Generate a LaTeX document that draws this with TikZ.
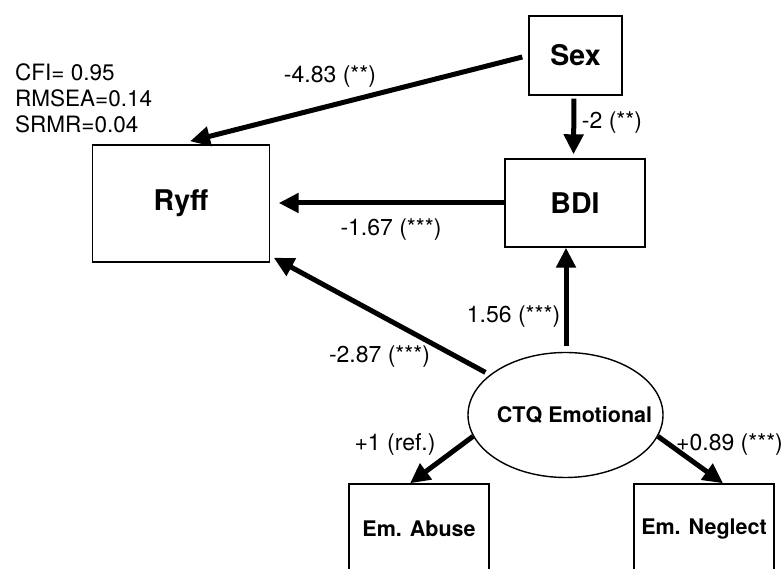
\documentclass[tikz,border=0pt]{standalone}
\usepackage{fontspec}
\setmainfont{TeX Gyre Heros}
\usetikzlibrary{arrows.meta,shapes.geometric}
\begin{document}
\begin{tikzpicture}[x=1pt,y=1pt,
  box/.style={draw, line width=1.4pt, rectangle, inner sep=0pt,
    font=\bfseries\fontsize{28.5}{30}\selectfont},
  smallbox/.style={box, font=\bfseries\fontsize{21.5}{24}\selectfont},
  latent/.style={draw, ellipse, line width=1.4pt, inner sep=0pt,
    minimum width=195pt, minimum height=125pt},
  sempath/.style={line width=5pt, -{Triangle[length=20pt,width=19pt]}},
  lbl/.style={inner sep=0pt, font=\fontsize{23}{26}\selectfont},
  fit/.style={inner sep=0pt, anchor=base west, font=\fontsize{22.5}{26}\selectfont},
]
\clip (0,0) rectangle (783,569);
\fill[white] (0,0) rectangle (783,569);

% nodes
\node[box, minimum width=93pt, minimum height=79pt] (sex) at (575.5,513.5) {Sex};
\node[box, minimum width=177pt, minimum height=117pt] (ryff) at (181,365.5) {Ryff};
\node[box, minimum width=140pt, minimum height=88pt] (bdi) at (575,366) {BDI};
\node[latent] (ctq) at (565.5,154) {};
\node[inner sep=0pt, font=\bfseries\fontsize{21.5}{24}\selectfont] (ctqtext) at (574.5,154) {CTQ Emotional};
\node[smallbox, minimum width=140pt, minimum height=90pt] (abuse) at (419,40) {Em. Abuse};
\node[smallbox, minimum width=140pt, minimum height=90pt] (neglect) at (704,40) {Em. Neglect};

% fit indices
\node[fit] (fit1) at (15,488) {CFI= 0.95};
\node[fit] (fit2) at (15,462) {RMSEA=0.14};
\node[fit] (fit3) at (15,436) {SRMR=0.04};

% paths
\draw[sempath] ([shift={(-6pt,-1.5pt)}]sex.west) -- ([shift={(9pt,3pt)}]ryff.north);
\draw[sempath, shorten <=3pt, shorten >=4pt] ([xshift=-1.5pt]sex.south) -- ([xshift=-1.5pt]bdi.north);
\draw[sempath, shorten >=8.5pt] (bdi.west) -- (bdi.west -| ryff.east);
\draw[sempath, shorten <=5.5pt] ([xshift=0.5pt]ctq.north) -- ([xshift=-9pt]bdi.south);
\draw[sempath, shorten <=5pt] (ctq.152) -- ([shift={(3.5pt,5pt)}]ryff.south east);
\draw[sempath] (ctq.193.4) -- ([xshift=-9pt]abuse.north);
\draw[sempath] (ctq.347.2) -- ([xshift=19pt]neglect.north);

% labels
\node[lbl] (l1) at (330,492) {-4.83 (**)};
\node[lbl] (l2) at (612,446) {-2 (**)};
\node[lbl] (l3) at (391,339) {-1.67 (***)};
\node[lbl] (l4) at (513.5,252) {1.56 (***)};
\node[lbl] (l5) at (379.5,212) {-2.87 (***)};
\node[lbl] (l6) at (395,124) {+1 (ref.)};
\node[lbl] (l7) at (729.5,124) {+0.89 (***)};
\end{tikzpicture}
\end{document}
